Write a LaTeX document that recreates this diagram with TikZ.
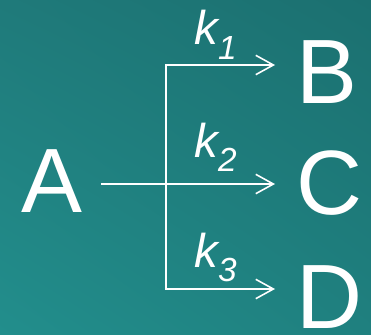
\documentclass[tikz,border=0pt]{standalone}
\usepackage{fontspec}
\setmainfont{Liberation Sans}
\usetikzlibrary{arrows.meta,shadings}
\definecolor{tealUL}{RGB}{31,122,122}
\definecolor{tealUR}{RGB}{27,112,112}
\definecolor{tealLL}{RGB}{34,142,140}
\definecolor{tealLR}{RGB}{31,128,127}

\begin{document}
\begin{tikzpicture}[x=0.02cm,y=-0.02cm,
    species/.style={text=white,inner sep=0pt,font=\fontsize{52}{52}\selectfont},
    rate/.style={text=white,inner sep=0pt,anchor=base west,font=\fontsize{27}{27}\selectfont\itshape},
    flow/.style={white,line width=0.9pt,-{Straight Barb[length=10pt,width=11pt]}}]
  \shade[upper left=tealUL,upper right=tealUR,lower left=tealLL,lower right=tealLR]
    (0,0) rectangle (371,334);
  \node[species,anchor=east] (A) at (83,181) {A};
  \node[species,anchor=west] (B) at (296,72) {B};
  \node[species,anchor=west] (C) at (296,183) {C};
  \node[species,anchor=west] (D) at (296,297) {D};
  \coordinate (split) at (166,184);
  \coordinate (toB) at (275,65);
  \coordinate (toC) at (275,184);
  \coordinate (toD) at (275,289);
  \draw[flow] ([xshift=0.36cm]A.east |- split) -- (toC);
  \draw[flow] (split) |- (toB);
  \draw[flow] (split) |- (toD);
  \node[rate] (k1) at (194,45) {k\raisebox{-8pt}{\fontsize{19}{19}\selectfont 1}};
  \node[rate] (k2) at (194,157) {k\raisebox{-8pt}{\fontsize{19}{19}\selectfont 2}};
  \node[rate] (k3) at (194,267) {k\raisebox{-8pt}{\fontsize{19}{19}\selectfont 3}};
\end{tikzpicture}
\end{document}
